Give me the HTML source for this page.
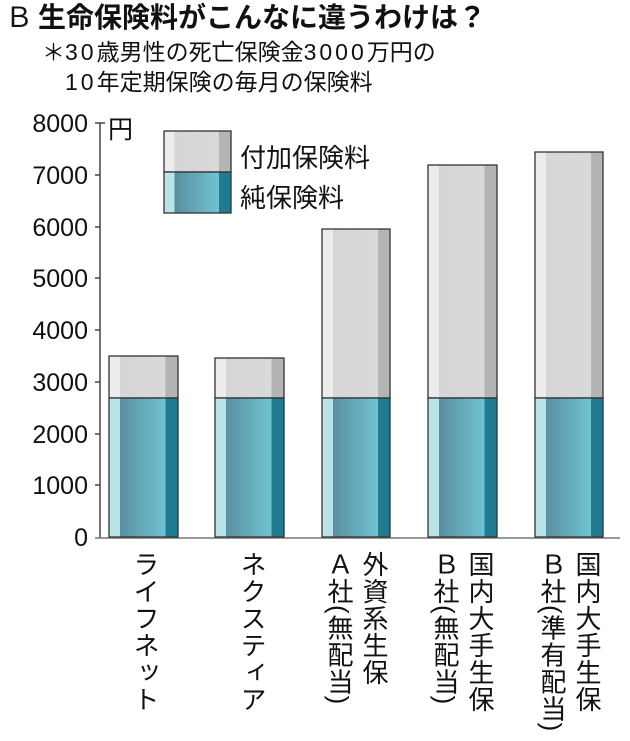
<!DOCTYPE html>
<html><head><meta charset="utf-8"><style>
body{margin:0;width:630px;height:735px;background:#fff;position:relative;overflow:hidden;font-family:"Liberation Sans","Noto Sans CJK JP",sans-serif;color:#111}
.a{position:absolute;white-space:nowrap}
.v{position:absolute;writing-mode:vertical-rl;font-size:26px;line-height:26px;letter-spacing:1px;top:551px;height:190px;width:30px;white-space:nowrap}
.yl{position:absolute;font-size:25px;right:542px;text-align:right;line-height:24px}
.d{letter-spacing:3px}
</style></head><body>
<div class="a" style="left:5px;top:3px;font-size:28px;line-height:30px"><span style="font-weight:normal;margin-right:5px">Ｂ</span><b>生命保険料がこんなに違うわけは？</b></div>
<div class="a" style="left:42px;top:38px;font-size:23px;line-height:28px">＊<span class="d">30</span>歳男性の死亡保険金<span class="d">3000</span>万円の</div>
<div class="a" style="left:65px;top:68px;font-size:23px;line-height:28px"><span class="d">10</span>年定期保険の毎月の保険料</div>
<div class="yl" style="top:112px">8000</div>
<div class="yl" style="top:164px">7000</div>
<div class="yl" style="top:216px">6000</div>
<div class="yl" style="top:267px">5000</div>
<div class="yl" style="top:319px">4000</div>
<div class="yl" style="top:371px">3000</div>
<div class="yl" style="top:423px">2000</div>
<div class="yl" style="top:474px">1000</div>
<div class="yl" style="top:526px">0</div>
<div class="a" style="left:108px;top:110px;font-size:25px">円</div>
<div class="a" style="left:240px;top:138px;font-size:26px">付加保険料</div>
<div class="a" style="left:240px;top:178px;font-size:26px">純保険料</div>
<svg width="630" height="735" style="position:absolute;left:0;top:0">
<defs>
<linearGradient id="b" x1="0" x2="1"><stop offset="0" stop-color="#b8e4e8"/><stop offset=".16" stop-color="#b8e4e8"/><stop offset=".16" stop-color="#5a8fa0"/><stop offset=".82" stop-color="#6fc3d3"/><stop offset=".82" stop-color="#1e7b90"/><stop offset="1" stop-color="#1e7b90"/></linearGradient>
<linearGradient id="g" x1="0" x2="1"><stop offset="0" stop-color="#ececec"/><stop offset=".16" stop-color="#ececec"/><stop offset=".16" stop-color="#d6d6d6"/><stop offset=".82" stop-color="#d9d9d9"/><stop offset=".82" stop-color="#b4b4b4"/><stop offset="1" stop-color="#b4b4b4"/></linearGradient>
</defs>
<g stroke="#444" stroke-width="1.5">
<line x1="100" y1="123" x2="100" y2="538"/>
<line x1="95" y1="123" x2="105" y2="123"/><line x1="95" y1="175" x2="100" y2="175"/><line x1="95" y1="227" x2="100" y2="227"/><line x1="95" y1="278" x2="100" y2="278"/><line x1="95" y1="330" x2="100" y2="330"/><line x1="95" y1="382" x2="100" y2="382"/><line x1="95" y1="434" x2="100" y2="434"/><line x1="95" y1="485" x2="100" y2="485"/>
<line x1="95" y1="538" x2="620" y2="538" stroke="#777"/>
</g>
<g stroke="#333" stroke-width="1.3">
<rect x="164" y="131" width="67" height="41" fill="url(#g)"/><rect x="164" y="172" width="67" height="41" fill="url(#b)"/>
<rect x="109" y="356" width="69" height="42" fill="url(#g)"/><rect x="109" y="398" width="69" height="139" fill="url(#b)"/>
<rect x="215" y="358" width="69" height="40" fill="url(#g)"/><rect x="215" y="398" width="69" height="139" fill="url(#b)"/>
<rect x="322" y="229" width="68" height="169" fill="url(#g)"/><rect x="322" y="398" width="68" height="139" fill="url(#b)"/>
<rect x="428" y="165" width="69" height="233" fill="url(#g)"/><rect x="428" y="398" width="69" height="139" fill="url(#b)"/>
<rect x="535" y="152" width="68" height="246" fill="url(#g)"/><rect x="535" y="398" width="68" height="139" fill="url(#b)"/>
</g>
</svg>
<div class="v" style="left:128px">ライフネット</div>
<div class="v" style="left:235px">ネクスティア</div>
<div class="v" style="left:322px">Ａ社(無配当)</div>
<div class="v" style="left:357px">外資系生保</div>
<div class="v" style="left:428px">Ｂ社(無配当)</div>
<div class="v" style="left:463px">国内大手生保</div>
<div class="v" style="left:535px">Ｂ社(準有配当)</div>
<div class="v" style="left:570px">国内大手生保</div>
</body></html>
